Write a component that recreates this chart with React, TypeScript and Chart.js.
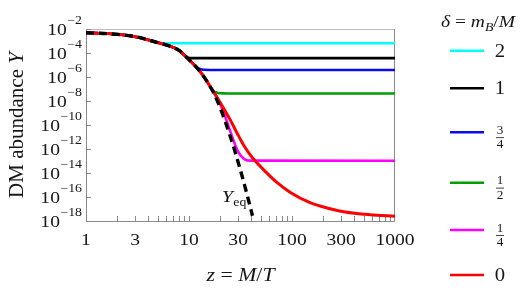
import React, { useEffect, useRef } from 'react';
import { Chart, registerables } from 'chart.js';
Chart.register(...registerables);

// ---- data (z = M/T, log10 of Y) ----
const zEq = [1, 1.71, 2.86, 4.47, 6.99, 7.62, 8.18, 8.73, 9.55, 11.93, 13.96, 15.99, 17.89, 20.0, 22.38, 25.0, 27.96, 31.25, 34.94, 39.05, 41.3];
const logYEq = [-2.318, -2.402, -2.603, -3.021, -3.523, -3.674, -3.841, -4.067, -4.385, -5.222, -5.975, -6.770, -7.565, -8.527, -9.657, -10.870, -12.209, -13.632, -15.138, -16.728, -17.565];

const zDelta2 = [1, 1.71, 2.86, 4.47, 4.89, 5.34, 5.98, 6.84, 1000];
const logYDelta2 = [-2.318, -2.402, -2.603, -3.021, -3.113, -3.163, -3.184, -3.188, -3.188];

const zDelta1 = [1, 1.71, 2.86, 4.47, 6.99, 7.62, 8.18, 8.55, 9.06, 9.55, 10.22, 11.44, 1000];
const logYDelta1 = [-2.318, -2.402, -2.603, -3.021, -3.523, -3.674, -3.841, -4.0, -4.209, -4.343, -4.41, -4.427, -4.427];

const zDelta34 = [1, 1.71, 2.86, 4.47, 6.99, 7.62, 8.18, 8.73, 9.55, 10.43, 11.17, 11.93, 12.77, 13.96, 15.99, 1000];
const logYDelta34 = [-2.318, -2.402, -2.603, -3.021, -3.523, -3.674, -3.841, -4.067, -4.385, -4.72, -4.99, -5.205, -5.339, -5.402, -5.414, -5.414];

const zDelta12 = [1, 1.71, 2.86, 4.47, 6.99, 7.62, 8.18, 8.73, 9.55, 11.93, 13.96, 15.3, 16.34, 17.5, 19.13, 21.35, 25.0, 1000];
const logYDelta12 = [-2.318, -2.402, -2.603, -3.021, -3.523, -3.674, -3.841, -4.067, -4.385, -5.222, -5.975, -6.52, -6.94, -7.21, -7.33, -7.368, -7.37, -7.37];

const zDelta14 = [1, 1.71, 2.86, 4.47, 6.99, 7.62, 8.18, 8.73, 9.55, 11.93, 13.96, 15.99, 17.89, 20.0, 22.38, 25.0, 27.37, 29.25, 31.25, 33.41, 35.72, 39.05, 1000];
const logYDelta14 = [-2.318, -2.402, -2.603, -3.021, -3.523, -3.674, -3.841, -4.067, -4.385, -5.222, -5.975, -6.770, -7.397, -8.234, -9.280, -10.452, -11.414, -12.042, -12.464, -12.753, -12.912, -12.971, -12.98];

const zDelta0 = [1, 1.71, 2.86, 4.47, 6.99, 7.62, 8.18, 8.73, 9.55, 11.93, 13.96, 15.99, 17.89, 20.0, 22.38, 25.0, 29.25, 33.41, 38.15, 43.6, 54.6, 71.3, 95.6, 149.8, 234.5, 328, 574, 1000];
const logYDelta0 = [-2.318, -2.402, -2.603, -3.021, -3.523, -3.674, -3.841, -4.067, -4.385, -5.222, -5.975, -6.770, -7.439, -8.109, -8.820, -9.531, -10.661, -11.582, -12.335, -12.962, -13.841, -14.787, -15.598, -16.477, -16.979, -17.255, -17.481, -17.607];

const legendLabels = ['2', '1', '3/4', '1/2', '1/4', '0'];
const legendColors = ['#00ffff', '#000000', '#0a0aef', '#00a000', '#ff00ff', '#ff0000'];

const xTickLabels = [1, 3, 10, 30, 100, 300, 1000];
const yTickExponents = [-2, -4, -6, -8, -10, -12, -14, -16, -18];

const FONT = '"Liberation Serif", "Times New Roman", serif';
const SX = 1.15;
const TXT = '#161616';

function pts(z: number[], ly: number[]) {
  return z.map((v, i) => ({ x: v, y: Math.pow(10, ly[i]) }));
}

function text(ctx: CanvasRenderingContext2D, s: string, x: number, y: number, font: string, align: CanvasTextAlign = 'left', sx = SX) {
  ctx.save();
  ctx.font = font;
  ctx.textAlign = align;
  ctx.textBaseline = 'alphabetic';
  ctx.fillStyle = TXT;
  ctx.translate(x, y);
  ctx.scale(sx, 1);
  ctx.fillText(s, 0, 0);
  ctx.restore();
}
function tw(ctx: CanvasRenderingContext2D, s: string, font: string, sx = SX) {
  ctx.save();
  ctx.font = font;
  const w = ctx.measureText(s).width * sx;
  ctx.restore();
  return w;
}
function runs(ctx: CanvasRenderingContext2D, parts: [string, string, number][], cx: number, y: number) {
  const total = parts.reduce((a, p) => a + tw(ctx, p[0], p[1]), 0);
  let x = cx - total / 2;
  for (const p of parts) {
    text(ctx, p[0], x, y + p[2], p[1]);
    x += tw(ctx, p[0], p[1]);
  }
}

const decor = {
  id: 'decor',
  beforeDatasetsDraw(chart: any) {
    const { ctx, chartArea: a, scales } = chart;
    const xs = scales.x, ys = scales.y;
    ctx.save();
    ctx.lineWidth = 1;
    ctx.strokeStyle = '#bdbdbd';
    ctx.beginPath();
    ctx.moveTo(a.left, a.top + 0.5); ctx.lineTo(a.right, a.top + 0.5);
    ctx.stroke();
    ctx.strokeStyle = '#8a8a8a';
    ctx.beginPath();
    ctx.moveTo(a.left + 0.5, a.top); ctx.lineTo(a.left + 0.5, a.bottom + 0.5);
    ctx.lineTo(a.right - 0.5, a.bottom + 0.5); ctx.lineTo(a.right - 0.5, a.top);
    ctx.stroke();
    ctx.beginPath();
    for (const e of yTickExponents) {
      const y = Math.round(ys.getPixelForValue(Math.pow(10, e))) + 0.5;
      ctx.moveTo(a.left, y); ctx.lineTo(a.left + 5, y);
    }
    for (const d of [1, 10, 100]) {
      for (let m = 1; m <= 9; m++) {
        const x = Math.round(xs.getPixelForValue(d * m)) + 0.5;
        ctx.moveTo(x, a.bottom); ctx.lineTo(x, a.bottom - 5);
      }
    }
    ctx.stroke();
    ctx.restore();
  },
  afterDraw(chart: any) {
    const { ctx, chartArea: a, scales } = chart;
    const xs = scales.x, ys = scales.y;
    const base = `17px ${FONT}`;
    const sup = `12px ${FONT}`;
    for (const e of yTickExponents) {
      const y = ys.getPixelForValue(Math.pow(10, e));
      const s = '\u2212' + Math.abs(e);
      const sw = tw(ctx, s, sup);
      text(ctx, s, 82 - sw, y - 5, sup);
      text(ctx, '10', 82 - sw - 0.5, y + 6, base, 'right');
    }
    for (const v of xTickLabels) {
      const x = xs.getPixelForValue(v);
      text(ctx, String(v), x, a.bottom + 24, base, 'center');
    }
    const tf = `19px ${FONT}`, ti = `italic 19px ${FONT}`;
    runs(ctx, [['z', ti, 0], [' = ', tf, 0], ['M', ti, 0], ['/', tf, 0], ['T', ti, 0]], (a.left + a.right) / 2, 281);
    ctx.save();
    ctx.translate(23, (a.top + a.bottom) / 2);
    ctx.rotate(-Math.PI / 2);
    ctx.fillStyle = TXT;
    const yf = `21px ${FONT}`, yfi = `italic 21px ${FONT}`;
    ctx.font = yf;
    const w1 = ctx.measureText('DM abundance ').width;
    ctx.font = yfi;
    const w2 = ctx.measureText('Y').width;
    const x0 = -(w1 + w2) / 2;
    ctx.textBaseline = 'alphabetic';
    ctx.font = yf; ctx.fillText('DM abundance ', x0, 0);
    ctx.font = yfi; ctx.fillText('Y', x0 + w1, 0);
    ctx.restore();
    const lx = xs.getPixelForValue(20.9), ly = ys.getPixelForValue(Math.pow(10, -16.45));
    const yi = `italic 17px ${FONT}`;
    text(ctx, 'Y', lx, ly, yi);
    text(ctx, 'eq', lx + tw(ctx, 'Y', yi) + 0.5, ly + 4, `12px ${FONT}`);
    const lf = `17px ${FONT}`, lfi = `italic 17px ${FONT}`;
    runs(ctx, [['\u03b4', lfi, 0], [' = ', lf, 0], ['m', lfi, 0], ['B', `italic 12px ${FONT}`, 4], ['/', lf, 0], ['M', lfi, 0]], 478, 27);
    const ly0 = [50.7, 88.3, 132.3, 182.7, 230, 275];
    legendLabels.forEach((lab, i) => {
      const y = ly0[i];
      ctx.save();
      ctx.strokeStyle = legendColors[i];
      ctx.lineWidth = 2.6;
      ctx.beginPath();
      ctx.moveTo(450, y); ctx.lineTo(484, y);
      ctx.stroke();
      ctx.restore();
      if (lab.includes('/')) {
        const [n, d] = lab.split('/');
        const ff = `11.5px ${FONT}`;
        text(ctx, n, 500, y + 1.5, ff, 'center');
        text(ctx, d, 500, y + 16, ff, 'center');
        ctx.save();
        ctx.fillStyle = TXT;
        ctx.fillRect(496, y + 5, 8, 0.8);
        ctx.restore();
      } else {
        text(ctx, lab, 500, y + 6, `18px ${FONT}`, 'center');
      }
    });
  },
};

export default function App() {
  const ref = useRef<HTMLCanvasElement>(null);
  useEffect(() => {
    const canvas = ref.current!;
    const mk = (data: any, color: string, width: number, order: number, dash?: number[]) => ({
      data, borderColor: color, borderWidth: width, pointRadius: 0, fill: false, order,
      borderDash: dash || [], borderCapStyle: 'butt', borderJoinStyle: 'round',
    });
    const chart = new Chart(canvas, {
      type: 'line',
      data: {
        datasets: [
          mk(pts(zDelta2, logYDelta2), legendColors[0], 2.6, 7),
          mk(pts(zDelta1, logYDelta1), legendColors[1], 2.6, 6),
          mk(pts(zDelta34, logYDelta34), legendColors[2], 2.6, 5),
          mk(pts(zDelta12, logYDelta12), legendColors[3], 2.6, 4),
          mk(pts(zDelta14, logYDelta14), legendColors[4], 2.6, 3),
          mk(pts(zDelta0, logYDelta0), legendColors[5], 3, 2),
          mk(pts(zEq, logYEq), '#000000', 3.4, 1, [8, 5]),
        ] as any,
      },
      options: {
        responsive: false,
        animation: false,
        layout: { padding: { left: 86, right: 136, top: 29, bottom: 84 } },
        scales: {
          x: { type: 'logarithmic', min: 1, max: 1000, display: false },
          y: { type: 'logarithmic', min: 1e-18, max: 1e-2, display: false },
        },
        plugins: { legend: { display: false }, tooltip: { enabled: false } },
        elements: { point: { radius: 0 }, line: { cubicInterpolationMode: 'monotone' } },
      } as any,
      plugins: [decor],
    });
    return () => chart.destroy();
  }, []);
  return (
    <div style={{ position: 'absolute', left: 0, top: 0, width: 531, height: 305, background: '#fff' }}>
      <canvas ref={ref} width={531} height={305} style={{ display: 'block', width: 531, height: 305 }} />
    </div>
  );
}
